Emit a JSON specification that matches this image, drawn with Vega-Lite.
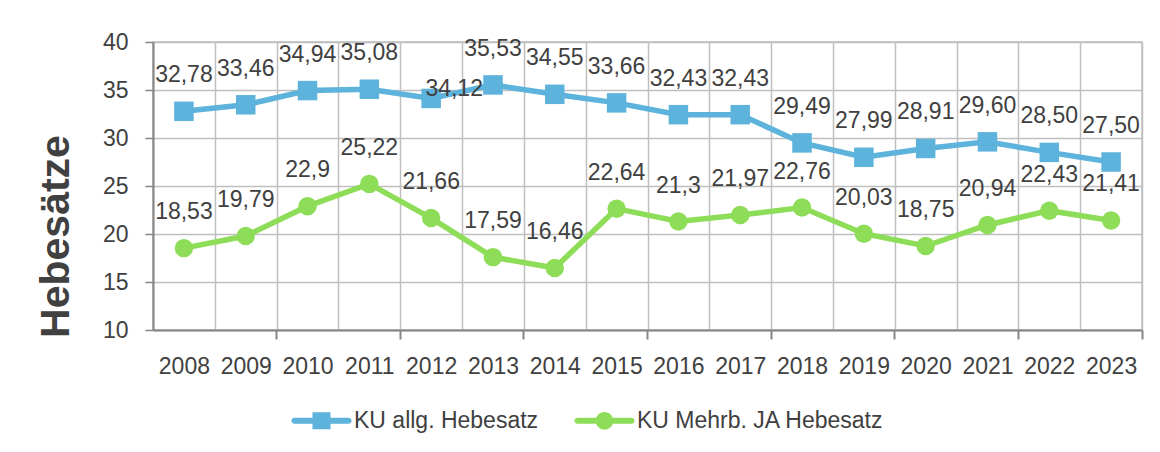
{
  "$schema": "https://vega.github.io/schema/vega-lite/v6.json",
  "autosize": {"type": "none"},
  "width": 989,
  "height": 288,
  "padding": {"left": 153, "top": 42, "right": 18, "bottom": 122},
  "background": "white",
  "config": {
    "font": "Liberation Sans",
    "view": {"stroke": "#bfbfbf", "strokeWidth": 1.5}
  },
  "data": {
    "values": [
      {"year": "2008", "series": "KU allg. Hebesatz", "value": 32.78, "label": "32,78"},
      {"year": "2009", "series": "KU allg. Hebesatz", "value": 33.46, "label": "33,46"},
      {"year": "2010", "series": "KU allg. Hebesatz", "value": 34.94, "label": "34,94"},
      {"year": "2011", "series": "KU allg. Hebesatz", "value": 35.08, "label": "35,08"},
      {"year": "2012", "series": "KU allg. Hebesatz", "value": 34.12, "label": "34,12"},
      {"year": "2013", "series": "KU allg. Hebesatz", "value": 35.53, "label": "35,53"},
      {"year": "2014", "series": "KU allg. Hebesatz", "value": 34.55, "label": "34,55"},
      {"year": "2015", "series": "KU allg. Hebesatz", "value": 33.66, "label": "33,66"},
      {"year": "2016", "series": "KU allg. Hebesatz", "value": 32.43, "label": "32,43"},
      {"year": "2017", "series": "KU allg. Hebesatz", "value": 32.43, "label": "32,43"},
      {"year": "2018", "series": "KU allg. Hebesatz", "value": 29.49, "label": "29,49"},
      {"year": "2019", "series": "KU allg. Hebesatz", "value": 27.99, "label": "27,99"},
      {"year": "2020", "series": "KU allg. Hebesatz", "value": 28.91, "label": "28,91"},
      {"year": "2021", "series": "KU allg. Hebesatz", "value": 29.60, "label": "29,60"},
      {"year": "2022", "series": "KU allg. Hebesatz", "value": 28.50, "label": "28,50"},
      {"year": "2023", "series": "KU allg. Hebesatz", "value": 27.50, "label": "27,50"},
      {"year": "2008", "series": "KU Mehrb. JA Hebesatz", "value": 18.53, "label": "18,53"},
      {"year": "2009", "series": "KU Mehrb. JA Hebesatz", "value": 19.79, "label": "19,79"},
      {"year": "2010", "series": "KU Mehrb. JA Hebesatz", "value": 22.9, "label": "22,9"},
      {"year": "2011", "series": "KU Mehrb. JA Hebesatz", "value": 25.22, "label": "25,22"},
      {"year": "2012", "series": "KU Mehrb. JA Hebesatz", "value": 21.66, "label": "21,66"},
      {"year": "2013", "series": "KU Mehrb. JA Hebesatz", "value": 17.59, "label": "17,59"},
      {"year": "2014", "series": "KU Mehrb. JA Hebesatz", "value": 16.46, "label": "16,46"},
      {"year": "2015", "series": "KU Mehrb. JA Hebesatz", "value": 22.64, "label": "22,64"},
      {"year": "2016", "series": "KU Mehrb. JA Hebesatz", "value": 21.3, "label": "21,3"},
      {"year": "2017", "series": "KU Mehrb. JA Hebesatz", "value": 21.97, "label": "21,97"},
      {"year": "2018", "series": "KU Mehrb. JA Hebesatz", "value": 22.76, "label": "22,76"},
      {"year": "2019", "series": "KU Mehrb. JA Hebesatz", "value": 20.03, "label": "20,03"},
      {"year": "2020", "series": "KU Mehrb. JA Hebesatz", "value": 18.75, "label": "18,75"},
      {"year": "2021", "series": "KU Mehrb. JA Hebesatz", "value": 20.94, "label": "20,94"},
      {"year": "2022", "series": "KU Mehrb. JA Hebesatz", "value": 22.43, "label": "22,43"},
      {"year": "2023", "series": "KU Mehrb. JA Hebesatz", "value": 21.41, "label": "21,41"}
    ]
  },
  "resolve": {"axis": {"x": "independent"}},
  "layer": [
    {
      "mark": {"type": "line", "strokeWidth": 5.5},
      "encoding": {
        "x": {
          "field": "year", "type": "ordinal",
          "scale": {"type": "band", "paddingInner": 0, "paddingOuter": 0},
          "axis": {
            "title": null, "orient": "bottom",
            "grid": true, "gridColor": "#bfbfbf", "gridWidth": 1.5, "tickBand": "extent",
            "ticks": false,
            "domain": true, "domainColor": "#868686", "domainWidth": 2,
            "labelFontSize": 23, "labelColor": "#404040", "labelPadding": 25, "labelAngle": 0
          }
        },
        "y": {
          "field": "value", "type": "quantitative",
          "scale": {"domain": [10, 40], "nice": false, "zero": false},
          "axis": {
            "values": [10, 15, 20, 25, 30, 35, 40],
            "grid": true, "gridColor": "#bfbfbf", "gridWidth": 1.5,
            "domain": true, "domainColor": "#868686", "domainWidth": 2,
            "ticks": true, "tickSize": 8, "tickColor": "#868686", "tickWidth": 1.5,
            "labelFontSize": 23, "labelColor": "#404040", "labelPadding": 17,
            "title": "Hebesätze", "titleFontSize": 41, "titleFontWeight": "bold", "titleColor": "#404040",
            "titleAngle": -90, "titleX": -85, "titleY": 194, "titleAlign": "center", "titleBaseline": "alphabetic"
          }
        },
        "detail": {"field": "series", "type": "nominal"},
        "color": {"condition": {"test": "datum.series === 'KU allg. Hebesatz'", "value": "#5DB3DB"}, "value": "#8EDD58"}
      }
    },
    {
      "mark": {"type": "point", "filled": true, "opacity": 1},
      "encoding": {
        "x": {
          "field": "year", "type": "ordinal",
          "axis": {
            "title": null, "orient": "bottom",
            "values": ["2009", "2011", "2013", "2015", "2017", "2019", "2021", "2023"],
            "bandPosition": 1, "grid": false, "labels": false, "domain": false,
            "ticks": true, "tickSize": 9, "tickColor": "#868686", "tickWidth": 2
          }
        },
        "y": {"field": "value", "type": "quantitative"},
        "color": {"condition": {"test": "datum.series === 'KU allg. Hebesatz'", "value": "#5DB3DB"}, "value": "#8EDD58"},
        "shape": {"condition": {"test": "datum.series === 'KU allg. Hebesatz'", "value": "square"}, "value": "circle"},
        "size": {"condition": {"test": "datum.series === 'KU allg. Hebesatz'", "value": 380}, "value": 340}
      }
    },
    {
      "transform": [{"filter": "!(datum.year === '2012' && datum.series === 'KU allg. Hebesatz')"}],
      "mark": {"type": "text", "dy": -36, "fontSize": 23, "color": "#404040", "baseline": "middle", "align": "center"},
      "encoding": {
        "x": {"field": "year", "type": "ordinal", "axis": null},
        "y": {"field": "value", "type": "quantitative"},
        "text": {"field": "label"}
      }
    },
    {
      "transform": [{"filter": "datum.year === '2012' && datum.series === 'KU allg. Hebesatz'"}],
      "mark": {"type": "text", "dx": 23, "dy": -9, "fontSize": 23, "color": "#404040", "baseline": "middle", "align": "center"},
      "encoding": {
        "x": {"field": "year", "type": "ordinal", "axis": null},
        "y": {"field": "value", "type": "quantitative"},
        "text": {"field": "label"}
      }
    },
    {
      "mark": {"type": "point", "filled": true, "opacity": 0},
      "encoding": {
        "x": {"field": "year", "type": "ordinal", "axis": null},
        "y": {"field": "value", "type": "quantitative"},
        "color": {
          "field": "series", "type": "nominal",
          "scale": {"domain": ["KU allg. Hebesatz", "KU Mehrb. JA Hebesatz"], "range": ["#5DB3DB", "#8EDD58"]},
          "legend": {
            "title": null, "orient": "none", "legendX": 140, "legendY": 350, "direction": "horizontal",
            "labelFontSize": 23, "labelColor": "#404040", "labelOffset": 4, "labelLimit": 0,
            "symbolSize": 3249, "columnPadding": 35, "symbolStrokeWidth": 0, "symbolOpacity": 1,
            "encode": {"symbols": {"update": {"opacity": {"value": 1}}}}
          }
        },
        "shape": {
          "field": "series", "type": "nominal",
          "scale": {
            "domain": ["KU allg. Hebesatz", "KU Mehrb. JA Hebesatz"],
            "range": [
              "M-0.95,-0.105H0.95A0.105,0.105 0 0,1 0.95,0.105H-0.95A0.105,0.105 0 0,1 -0.95,-0.105Z M-0.316,-0.3H0.316V0.3H-0.316Z",
              "M-0.95,-0.105H0.95A0.105,0.105 0 0,1 0.95,0.105H-0.95A0.105,0.105 0 0,1 -0.95,-0.105Z M0.31,0A0.31,0.31 0 1,1 -0.31,0A0.31,0.31 0 1,1 0.31,0Z"
            ]
          },
          "legend": {
            "title": null, "orient": "none", "legendX": 140, "legendY": 350, "direction": "horizontal",
            "labelFontSize": 23, "labelColor": "#404040", "labelOffset": 4, "labelLimit": 0,
            "symbolSize": 3249, "columnPadding": 35, "symbolStrokeWidth": 0, "symbolOpacity": 1,
            "encode": {"symbols": {"update": {"opacity": {"value": 1}}}}
          }
        }
      }
    }
  ]
}
